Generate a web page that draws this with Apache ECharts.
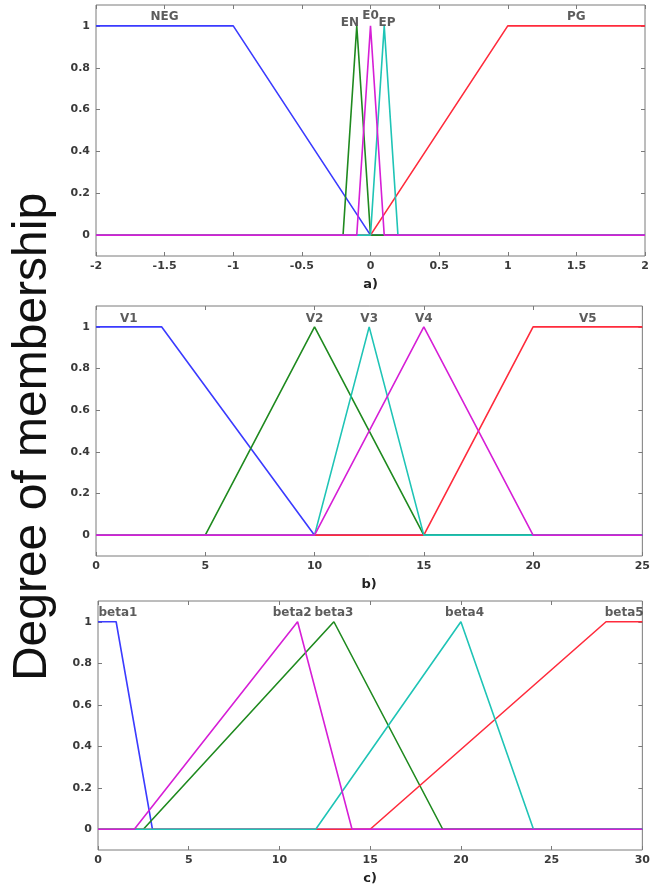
<!DOCTYPE html>
<html>
<head>
<meta charset="utf-8">
<script src="https://cdn.jsdelivr.net/npm/echarts@6/dist/echarts.min.js"></script>
<style>
  html, body { margin: 0; padding: 0; background: #fff; }
  #chart { width: 653px; height: 886px; }
</style>
</head>
<body>
<div id="chart"></div>
<script>
// ---- Panel a) error membership functions on [-2, 2] ----
const aNEG = [[-2, 1], [-1, 1], [0, 0], [2, 0]];
const aEN  = [[-2, 0], [-0.2, 0], [-0.1, 1], [0, 0], [2, 0]];
const aE0  = [[-2, 0], [-0.1, 0], [0, 1], [0.1, 0], [2, 0]];
const aEP  = [[-2, 0], [0, 0], [0.1, 1], [0.2, 0], [2, 0]];
const aPG  = [[-2, 0], [0, 0], [1, 1], [2, 1]];
const aLabelNames = ['NEG', 'EN', 'E0', 'EP', 'PG'];
const aLabelX = [-1.5, -0.15, 0, 0.12, 1.5];
const aLabelY = [1.045, 1.015, 1.05, 1.015, 1.045];
const aTickInterval = 0.5;

// ---- Panel b) V1..V5 on [0, 25] ----
const bV1 = [[0, 1], [3, 1], [10, 0], [25, 0]];
const bV2 = [[0, 0], [5, 0], [10, 1], [15, 0], [25, 0]];
const bV3 = [[0, 0], [10, 0], [12.5, 1], [15, 0], [25, 0]];
const bV4 = [[0, 0], [10, 0], [15, 1], [20, 0], [25, 0]];
const bV5 = [[0, 0], [15, 0], [20, 1], [25, 1]];
const bLabelNames = ['V1', 'V2', 'V3', 'V4', 'V5'];
const bLabelX = [1.5, 10, 12.5, 15, 22.5];
const bLabelY = [1.04, 1.04, 1.04, 1.04, 1.04];
const bTickInterval = 5;

// ---- Panel c) beta1..beta5 on [0, 30] ----
const cBeta1 = [[0, 1], [1, 1], [3, 0], [30, 0]];
const cBeta2 = [[0, 0], [2, 0], [11, 1], [14, 0], [30, 0]];
const cBeta3 = [[0, 0], [2.5, 0], [13, 1], [19, 0], [30, 0]];
const cBeta4 = [[0, 0], [12, 0], [20, 1], [24, 0], [30, 0]];
const cBeta5 = [[0, 0], [15, 0], [28, 1], [30, 1]];
const cLabelNames = ['beta1', 'beta2', 'beta3', 'beta4', 'beta5'];
const cLabelX = [1.1, 10.7, 13, 20.2, 29];
const cLabelY = [1.045, 1.045, 1.045, 1.045, 1.045];
const cTickInterval = 5;

const yTicks = [0, 0.2, 0.4, 0.6, 0.8, 1];
const panelCaptions = ['a)', 'b)', 'c)'];
const yTitle = 'Degree of membership';

const COL = {
  blue: '#3b3bff',
  green: '#1f8a1f',
  red: '#ff2b3c',
  cyan: '#1fc4b6',
  magenta: '#d61fd6'
};

const tickFont = { fontFamily: 'DejaVu Sans', fontSize: 11, fontWeight: 'bold', color: '#3a3a3a' };
const frameColor = '#7a7a7a';

// panel geometry (pixels)
const grids = [
  { left: 96, top: 5, width: 549, height: 251, show: true, borderColor: frameColor, borderWidth: 1 },
  { left: 96, top: 306, width: 548, height: 250, show: true, borderColor: frameColor, borderWidth: 1 },
  { left: 98, top: 601, width: 547, height: 254, show: true, borderColor: frameColor, borderWidth: 1 }
];

const xRanges = [[-2, 2, aTickInterval], [0, 25, bTickInterval], [0, 30, cTickInterval]];

const xAxes = [];
const yAxes = [];
const hiddenLine = { show: false, onZero: false };
const tick = { inside: true, length: 4, lineStyle: { color: frameColor } };

xRanges.forEach(([mn, mx, iv], g) => {
  xAxes.push({
    type: 'value', gridIndex: g, position: 'bottom', min: mn, max: mx, interval: iv,
    name: panelCaptions[g], nameLocation: 'middle', nameGap: 22,
    nameTextStyle: { fontFamily: 'DejaVu Sans', fontSize: 13, fontWeight: 'bold', color: '#222' },
    axisLine: hiddenLine,
    axisTick: tick,
    axisLabel: Object.assign({ margin: 5, formatter: v => String(v) }, tickFont),
    splitLine: { show: false }
  });
  xAxes.push({
    type: 'value', gridIndex: g, position: 'top', min: mn, max: mx, interval: iv,
    axisLine: hiddenLine,
    axisTick: tick,
    axisLabel: { show: false },
    splitLine: { show: false }
  });
  yAxes.push({
    type: 'value', gridIndex: g, position: 'left', min: -0.1, max: 1.1,
    axisLine: hiddenLine,
    axisTick: Object.assign({ customValues: yTicks }, tick),
    axisLabel: Object.assign({ margin: 6, customValues: yTicks, formatter: v => String(+v.toFixed(1)) }, tickFont),
    splitLine: { show: false }
  });
  yAxes.push({
    type: 'value', gridIndex: g, position: 'right', min: -0.1, max: 1.1,
    axisLine: hiddenLine,
    axisTick: Object.assign({ customValues: yTicks }, tick),
    axisLabel: { show: false },
    splitLine: { show: false }
  });
});

function mf(name, data, color, g) {
  return {
    name, type: 'line', data, xAxisIndex: g * 2, yAxisIndex: g * 2,
    showSymbol: false, symbol: 'none', silent: true,
    lineStyle: { color, width: 1.6 }, z: 2
  };
}

function labels(names, xs, ys, g) {
  return {
    type: 'scatter', xAxisIndex: g * 2, yAxisIndex: g * 2,
    symbolSize: 0, silent: true, z: 5,
    data: names.map((n, i) => ({ name: n, value: [xs[i], ys[i]] })),
    label: {
      show: true, position: 'inside', formatter: '{b}',
      fontFamily: 'DejaVu Sans', fontSize: 12, fontWeight: 'bold', color: '#333'
    }
  };
}

const series = [
  // a) — drawing order keeps the E0 zero line on top
  mf('NEG', aNEG, COL.blue, 0),
  mf('EN', aEN, COL.green, 0),
  mf('PG', aPG, COL.red, 0),
  mf('EP', aEP, COL.cyan, 0),
  mf('E0', aE0, COL.magenta, 0),
  labels(aLabelNames, aLabelX, aLabelY, 0),
  // b)
  mf('V1', bV1, COL.blue, 1),
  mf('V2', bV2, COL.green, 1),
  mf('V5', bV5, COL.red, 1),
  mf('V3', bV3, COL.cyan, 1),
  mf('V4', bV4, COL.magenta, 1),
  labels(bLabelNames, bLabelX, bLabelY, 1),
  // c)
  mf('beta1', cBeta1, COL.blue, 2),
  mf('beta3', cBeta3, COL.green, 2),
  mf('beta5', cBeta5, COL.red, 2),
  mf('beta4', cBeta4, COL.cyan, 2),
  mf('beta2', cBeta2, COL.magenta, 2),
  labels(cLabelNames, cLabelX, cLabelY, 2)
];

const chart = echarts.init(document.getElementById('chart'), null, { renderer: 'canvas' });
chart.setOption({
  backgroundColor: '#ffffff',
  animation: false,
  grid: grids,
  xAxis: xAxes,
  yAxis: yAxes,
  series,
  graphic: [{
    type: 'text',
    x: 33, y: 437,
    rotation: Math.PI / 2,
    style: {
      text: yTitle,
      fontFamily: 'Liberation Sans',
      fontSize: 48,
      fill: '#111',
      align: 'center',
      verticalAlign: 'middle'
    }
  }]
});
</script>
</body>
</html>
